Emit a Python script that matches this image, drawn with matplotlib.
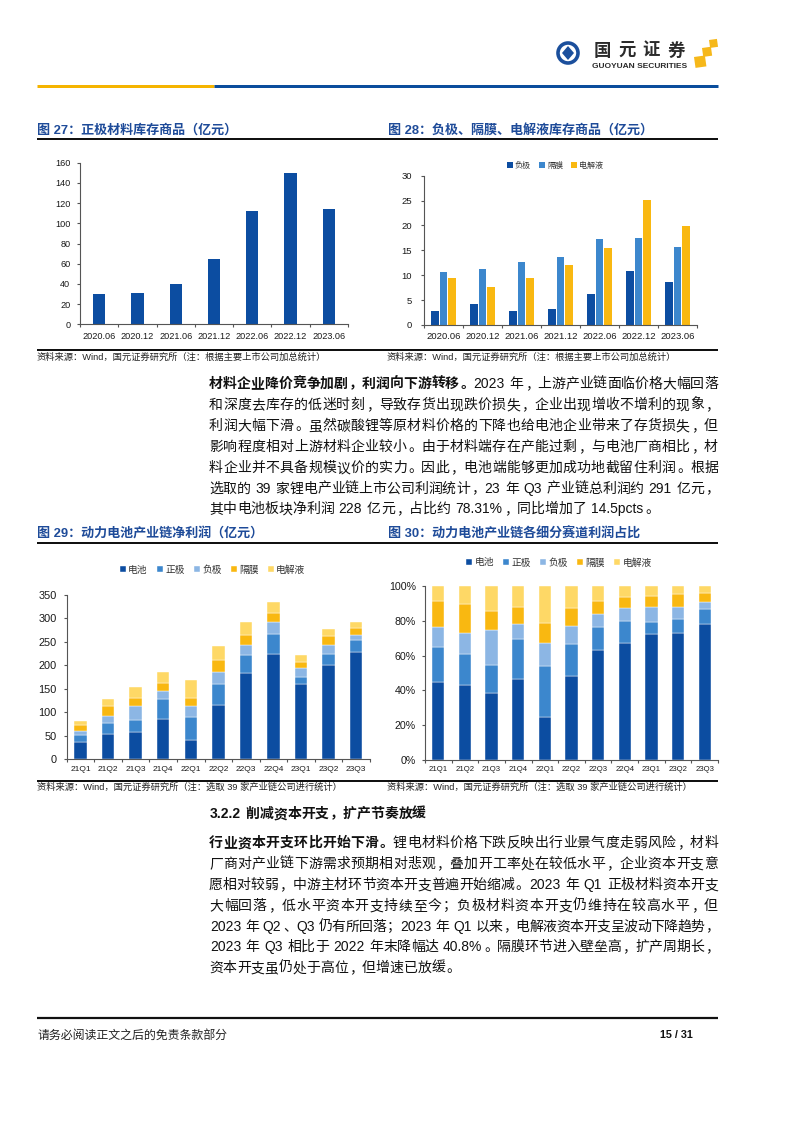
import numpy as np
import matplotlib
matplotlib.use('Agg')
import matplotlib.pyplot as plt
from matplotlib.font_manager import FontProperties
from matplotlib.patches import Rectangle, Circle, Polygon

W, H = 794, 1123
FAMS = ['Liberation Sans', 'Noto Sans CJK SC', 'DejaVu Sans']
CJKF = ['Noto Sans CJK SC', 'DejaVu Sans']
plt.rcParams['font.family'] = FAMS
plt.rcParams['axes.unicode_minus'] = False

# ---------------- data ----------------
inv_periods = ['2020.06', '2020.12', '2021.06', '2021.12', '2022.06', '2022.12', '2023.06']
cathode_inventory = [30.4, 31.0, 40.3, 64.4, 112.2, 150.2, 113.9]
anode_inventory = [2.75, 4.3, 2.8, 3.3, 6.2, 10.85, 8.6]
separator_inventory = [10.65, 11.3, 12.65, 13.7, 17.3, 17.5, 15.6]
electrolyte_inventory = [9.4, 7.6, 9.4, 12.05, 15.4, 25.1, 19.9]
inv_series = ['负极', '隔膜', '电解液']

quarters = ['21Q1', '21Q2', '21Q3', '21Q4', '22Q1', '22Q2', '22Q3', '22Q4', '23Q1', '23Q2', '23Q3']
segments = ['电池', '正极', '负极', '隔膜', '电解液']
profit_battery = [35.5, 54.0, 58.2, 85.2, 40.5, 115.7, 183.2, 223.6, 159.7, 200.9, 227.5]
profit_cathode = [15.6, 22.0, 24.8, 42.6, 49.0, 44.7, 38.3, 41.9, 15.6, 22.7, 26.0]
profit_anode = [9.2, 16.3, 30.6, 17.0, 23.4, 25.6, 22.0, 26.3, 19.2, 19.2, 11.4]
profit_separator = [12.1, 20.6, 16.3, 17.1, 17.7, 24.8, 20.6, 19.9, 12.1, 19.9, 14.9]
profit_electrolyte = [9.3, 14.2, 23.4, 23.4, 36.9, 30.6, 26.9, 22.0, 14.9, 14.2, 12.8]

share_battery = [44.8, 43.3, 38.7, 46.6, 24.7, 48.1, 63.2, 67.0, 72.6, 72.8, 78.0]
share_cathode = [20.3, 17.6, 16.1, 22.7, 29.3, 18.6, 13.0, 12.7, 6.9, 8.4, 8.8]
share_anode = [11.3, 12.1, 19.9, 9.1, 13.4, 10.3, 7.7, 7.8, 8.2, 6.5, 4.0]
share_separator = [15.0, 16.7, 11.1, 9.7, 11.3, 10.4, 7.3, 6.0, 6.6, 7.5, 5.2]
share_electrolyte = [8.6, 10.3, 14.2, 11.9, 21.3, 12.6, 8.8, 6.5, 5.7, 4.8, 4.0]

inv_yticks = [0, 20, 40, 60, 80, 100, 120, 140, 160]
inv2_yticks = [0, 5, 10, 15, 20, 25, 30]
profit_yticks = [0, 50, 100, 150, 200, 250, 300, 350]
share_yticks = [0, 20, 40, 60, 80, 100]
share_ylabels = ['0%', '20%', '40%', '60%', '80%', '100%']

# ---------------- colours ----------------
C_DARK = '#0c4da1'
C_MID = '#3c87cd'
C_LIGHT = '#8cb6e4'
C_GOLD = '#f9b811'
C_PALE = '#fed866'
TITLE_BLUE = '#1e4b99'
AX_COLOR = '#555555'
TXT = '#1a1a1a'

fig = plt.figure(figsize=(W / 100, H / 100), dpi=100)
fig.patch.set_facecolor('white')

bg = fig.add_axes([0, 0, 1, 1])
bg.set_xlim(0, W)
bg.set_ylim(H, 0)
bg.axis('off')


def fx(x):
    return x / W


def fy(y):
    return 1 - y / H


def hline(x0, x1, y, wpx, color):
    bg.plot([x0, x1], [y, y], color=color, lw=wpx * 0.72, solid_capstyle='butt')


def add_ax(l, t, r, b):
    ax = fig.add_axes([fx(l), fy(b), (r - l) / W, (b - t) / H])
    ax.set_facecolor('none')
    return ax


def style(ax, labels, ylim, yticks, ylabels, xfs, yfs, xpad, ypad):
    n = len(labels)
    for s in ['top', 'right']:
        ax.spines[s].set_visible(False)
    for s in ['left', 'bottom']:
        ax.spines[s].set_color(AX_COLOR)
        ax.spines[s].set_linewidth(0.8)
    ax.set_xlim(-0.5, n - 0.5)
    ax.set_ylim(*ylim)
    ax.set_xticks(np.arange(n))
    ax.set_xticklabels(labels, fontsize=xfs)
    ax.set_xticks(np.arange(n + 1) - 0.5, minor=True)
    ax.tick_params(axis='x', which='major', length=0, pad=xpad, labelcolor=TXT)
    ax.tick_params(axis='x', which='minor', length=2.5, width=0.8, color=AX_COLOR)
    ax.set_yticks(yticks)
    ax.set_yticklabels(ylabels, fontsize=yfs)
    ax.tick_params(axis='y', length=2.5, width=0.8, color=AX_COLOR, pad=ypad, labelcolor=TXT)


# ---------------- header ----------------
bg.add_patch(Circle((568, 53), 10, fill=False, ec='#1b4f9c', lw=2.6))
bg.add_patch(Polygon([(568, 46), (574, 53), (568, 60), (562, 53)], closed=True, fc='#1b4f9c', ec='none'))
for i, ch in enumerate('国元证券'):
    bg.text(602.3 + 24.5 * i, 50.5, ch, ha='center', va='center', fontsize=12.5,
            weight='bold', color='#2b2b2b', family=CJKF)
bg.text(592, 66, 'GUOYUAN SECURITIES', ha='left', va='center', fontsize=6,
        weight='bold', color='#2b2b2b', family=['Liberation Sans'])
for (x, y, s) in [(694, 57, 11), (702, 48, 9), (709, 40, 8)]:
    bg.add_patch(Rectangle((x, y), s, s, angle=-8, fc='#f6b81a', ec='none'))
hline(37, 214, 86, 3, '#f5b400')
hline(214, 718, 86, 3, '#0a4d9c')

# ---------------- titles and rules ----------------
fig.text(fx(37), fy(130), '图 27：正极材料库存商品（亿元）', fontsize=9.4, weight='bold',
         color=TITLE_BLUE, va='center')
fig.text(fx(388), fy(130), '图 28：负极、隔膜、电解液库存商品（亿元）', fontsize=9.4, weight='bold',
         color=TITLE_BLUE, va='center')
hline(37, 718, 138.5, 2, '#111111')
hline(37, 718, 350, 2, '#111111')
src1 = '资料来源：Wind，国元证券研究所（注：根据主要上市公司加总统计）'
fig.text(fx(37), fy(357.5), src1, fontsize=6.7, color='#222222', va='center')
fig.text(fx(387), fy(357.5), src1, fontsize=6.7, color='#222222', va='center')

fig.text(fx(37), fy(534), '图 29：动力电池产业链净利润（亿元）', fontsize=9.4, weight='bold',
         color=TITLE_BLUE, va='center')
fig.text(fx(388), fy(534), '图 30：动力电池产业链各细分赛道利润占比', fontsize=9.4, weight='bold',
         color=TITLE_BLUE, va='center')
hline(37, 718, 542.5, 2, '#111111')
hline(37, 718, 780.5, 2, '#111111')
src2 = '资料来源：Wind，国元证券研究所（注：选取 39 家产业链公司进行统计）'
fig.text(fx(37), fy(787.5), src2, fontsize=6.7, color='#222222', va='center')
fig.text(fx(387), fy(787.5), src2, fontsize=6.7, color='#222222', va='center')

# ---------------- chart 27 ----------------
ax1 = add_ax(80, 162.7, 348, 324.3)
x7 = np.arange(len(inv_periods))
ax1.bar(x7, cathode_inventory, width=0.32, color=C_DARK)
style(ax1, inv_periods, (0, 160), inv_yticks, [str(v) for v in inv_yticks], 6.6, 6.6, 5.5, 4.5)

# ---------------- chart 28 ----------------
ax2 = add_ax(424, 175.7, 697, 325)
b1 = ax2.bar(x7 - 0.21, anode_inventory, width=0.2, color=C_DARK)
b2 = ax2.bar(x7, separator_inventory, width=0.2, color=C_MID)
b3 = ax2.bar(x7 + 0.21, electrolyte_inventory, width=0.2, color=C_GOLD)
style(ax2, inv_periods, (0, 30), inv2_yticks, [str(v) for v in inv2_yticks], 6.8, 6.8, 4.8, 6)
ax2.legend([b1, b2, b3], inv_series, loc='center', bbox_to_anchor=(fx(555), fy(165)),
           bbox_transform=fig.transFigure, ncol=3, frameon=False,
           prop=FontProperties(family=CJKF, size=5.8), handlelength=0.7, handleheight=0.7,
           handletextpad=0.3, columnspacing=1.0, borderpad=0, labelcolor='#333333')

# ---------------- chart 29 ----------------
ax3 = add_ax(66.7, 594.7, 370, 759)
xq = np.arange(len(quarters))
prof = [profit_battery, profit_cathode, profit_anode, profit_separator, profit_electrolyte]
cols = [C_DARK, C_MID, C_LIGHT, C_GOLD, C_PALE]
bottom = np.zeros(len(quarters))
handles = []
for vals, c in zip(prof, cols):
    h = ax3.bar(xq, vals, width=0.45, bottom=bottom, color=c, edgecolor='white', linewidth=0.3)
    handles.append(h)
    bottom = bottom + np.array(vals)
style(ax3, quarters, (0, 350), profit_yticks, [str(v) for v in profit_yticks], 6, 7.9, 4.7, 4.5)
ax3.legend(handles, segments, loc='center', bbox_to_anchor=(fx(212.5), fy(569.5)),
           bbox_transform=fig.transFigure, ncol=5, frameon=False,
           prop=FontProperties(family=CJKF, size=7), handlelength=0.65, handleheight=0.65,
           handletextpad=0.25, columnspacing=0.9, borderpad=0, labelcolor='#333333')

# ---------------- chart 30 ----------------
ax4 = add_ax(425, 586, 718, 760)
shares = [share_battery, share_cathode, share_anode, share_separator, share_electrolyte]
bottom = np.zeros(len(quarters))
handles = []
for vals, c in zip(shares, cols):
    h = ax4.bar(xq, vals, width=0.46, bottom=bottom, color=c, edgecolor='white', linewidth=0.3)
    handles.append(h)
    bottom = bottom + np.array(vals)
style(ax4, quarters, (0, 100), share_yticks, share_ylabels, 5.6, 7.7, 4.2, 4)
ax4.legend(handles, segments, loc='center', bbox_to_anchor=(fx(559), fy(562.5)),
           bbox_transform=fig.transFigure, ncol=5, frameon=False,
           prop=FontProperties(family=CJKF, size=7), handlelength=0.65, handleheight=0.65,
           handletextpad=0.25, columnspacing=0.9, borderpad=0, labelcolor='#333333')

# ---------------- body text ----------------
renderer = fig.canvas.get_renderer()
LEFT_PUNCT = set('，。、；：！？')


def make_tokens(segs):
    toks = []
    for text, bold in segs:
        buf = ''
        for ch in text:
            if ch == ' ':
                if buf:
                    toks.append(('A', buf, bold))
                    buf = ''
                toks.append(('S', ' ', bold))
            elif ord(ch) < 128:
                buf += ch
            else:
                if buf:
                    toks.append(('A', buf, bold))
                    buf = ''
                toks.append(('C', ch, bold))
        if buf:
            toks.append(('A', buf, bold))
    return toks


def draw_line(segs, yc, x0=209, x1=718, size=10.0, justify=True, color='#111111'):
    em = size * 100 / 72
    toks = make_tokens(segs)
    widths = []
    for kind, s, bold in toks:
        if kind == 'C':
            widths.append(em)
        elif kind == 'S':
            widths.append(0.28 * em)
        else:
            fp = FontProperties(family=FAMS, size=size, weight='bold' if bold else 'normal')
            w, h, d = renderer.get_text_width_height_descent(s, fp, ismath=False)
            widths.append(w + 0.12 * em)
    n = len(toks)
    extra = (x1 - x0 - sum(widths)) / (n - 1) if (justify and n > 1) else 0
    x = x0
    base = yc + 0.37 * em
    for (kind, s, bold), w in zip(toks, widths):
        if kind != 'S':
            wt = 'bold' if bold else 'normal'
            if kind == 'C':
                if s in LEFT_PUNCT:
                    ha, xx = 'left', x + 0.08 * em
                elif s == '（':
                    ha, xx = 'right', x + w - 0.05 * em
                elif s == '）':
                    ha, xx = 'left', x + 0.05 * em
                else:
                    ha, xx = 'center', x + w / 2
            else:
                ha, xx = 'left', x + 0.06 * em
            fig.text(fx(xx), fy(base), s, ha=ha, va='baseline', fontsize=size,
                     weight=wt, color=color, family=FAMS)
        x += w + extra


para1 = [
    [('材料企业降价竞争加剧，利润向下游转移。', True), ('2023 年，上游产业链面临价格大幅回落', False)],
    [('和深度去库存的低迷时刻，导致存货出现跌价损失，企业出现增收不增利的现象，', False)],
    [('利润大幅下滑。虽然碳酸锂等原材料价格的下降也给电池企业带来了存货损失，但', False)],
    [('影响程度相对上游材料企业较小。由于材料端存在产能过剩，与电池厂商相比，材', False)],
    [('料企业并不具备规模议价的实力。因此，电池端能够更加成功地截留住利润。根据', False)],
    [('选取的 39 家锂电产业链上市公司利润统计，23 年 Q3 产业链总利润约 291 亿元，', False)],
    [('其中电池板块净利润 228 亿元，占比约 78.31%，同比增加了 14.5pcts。', False)],
]
ys1 = [383, 404, 425, 446, 467, 487.5, 508]
for i, (segs, y) in enumerate(zip(para1, ys1)):
    draw_line(segs, y, justify=(i < len(para1) - 1))

draw_line([('3.2.2 削减资本开支，扩产节奏放缓', True)], 813, justify=False)

para2 = [
    [('行业资本开支环比开始下滑。', True), ('锂电材料价格下跌反映出行业景气度走弱风险，材料', False)],
    [('厂商对产业链下游需求预期相对悲观，叠加开工率处在较低水平，企业资本开支意', False)],
    [('愿相对较弱，中游主材环节资本开支普遍开始缩减。2023 年 Q1 正极材料资本开支', False)],
    [('大幅回落，低水平资本开支持续至今；负极材料资本开支仍维持在较高水平，但', False)],
    [('2023 年 Q2、Q3 仍有所回落；2023 年 Q1 以来，电解液资本开支呈波动下降趋势，', False)],
    [('2023 年 Q3 相比于 2022 年末降幅达 40.8%。隔膜环节进入壁垒高，扩产周期长，', False)],
    [('资本开支虽仍处于高位，但增速已放缓。', False)],
]
ys2 = [842, 863, 884, 905, 925.5, 946, 967]
for i, (segs, y) in enumerate(zip(para2, ys2)):
    draw_line(segs, y, justify=(i < len(para2) - 1))

# ---------------- footer ----------------
hline(37, 718, 1018, 2.2, '#111111')
fig.text(fx(38), fy(1035), '请务必阅读正文之后的免责条款部分', fontsize=8.6, color='#222222',
         va='center', family=CJKF)
fig.text(fx(693), fy(1035), '15 / 31', fontsize=7.8, weight='bold', color='#111111',
         va='center', ha='right')

fig.savefig('out.png', dpi=100, facecolor='white')
